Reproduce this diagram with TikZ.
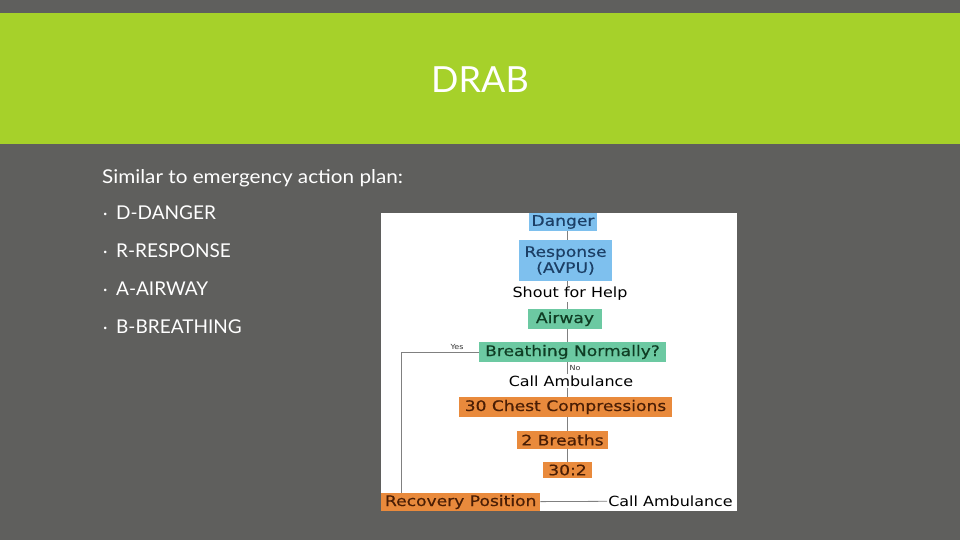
\documentclass[tikz,border=0pt]{standalone}
\usepackage{fontspec}
\setmainfont{Lato}
\newfontfamily\introfont[FakeStretch=1.09]{Lato}
\newfontfamily\chartfont[FakeStretch=1.18,FakeBold=0.4]{DejaVu Sans}
\newfontfamily\plainchartfont[FakeStretch=1.14]{DejaVu Sans}
\definecolor{bggray}{HTML}{5F5F5D}
\definecolor{bandgreen}{HTML}{A6D12A}
\definecolor{bluebox}{HTML}{7EC0EE}
\definecolor{bluetext}{HTML}{1C3F66}
\definecolor{greenbox}{HTML}{6CC9A2}
\definecolor{greentext}{HTML}{0F3D24}
\definecolor{orangebox}{HTML}{E98A3C}
\definecolor{orangetext}{HTML}{4A1E05}
\definecolor{chartline}{HTML}{808080}
\tikzset{
  cbox/.style={inner sep=0pt, minimum width=#1, font=\chartfont\fontsize{14.5}{16}\selectfont, align=center},
  bluestep/.style={cbox=#1, fill=bluebox, text=bluetext},
  greenstep/.style={cbox=#1, fill=greenbox, text=greentext},
  orangestep/.style={cbox=#1, fill=orangebox, text=orangetext},
  plaintext/.style={inner sep=1pt, font=\plainchartfont\fontsize{14}{16}\selectfont, text=black},
  smalllabel/.style={inner sep=0pt, font=\plainchartfont\fontsize{7}{8}\selectfont, text=black!80},
  conn/.style={draw=chartline, line width=0.8pt},
  bodytext/.style={inner sep=0pt, anchor=base west, text=white, font=\fontsize{19}{22}\selectfont},
}
\newcommand{\bulletdot}{\makebox[13pt][l]{\fontsize{17}{18}\selectfont\textperiodcentered}}
\begin{document}
\begin{tikzpicture}[x=1pt,y=-1pt]
\useasboundingbox (0,0) rectangle (960,540);
\fill[bggray] (0,0) rectangle (960,540);
\fill[bandgreen] (0,13) rectangle (960,144);
\node[text=white, font=\fontsize{36}{40}\selectfont, inner sep=0pt] (title) at (480,80) {DRAB};

\node[bodytext, font=\introfont\fontsize{19}{22}\selectfont] (intro) at (102,183) {Similar to emergency action plan:};
\node[bodytext] (b1) at (103,219) {\bulletdot D-DANGER};
\node[bodytext] (b2) at (103,257) {\bulletdot R-RESPONSE};
\node[bodytext] (b3) at (103,295) {\bulletdot A-AIRWAY};
\node[bodytext] (b4) at (103,333) {\bulletdot B-BREATHING};

% chart background
\fill[white] (381,213) rectangle (737,511);

\node[bluestep=68pt, minimum height=18pt] (danger) at (563,222) {Danger};
\node[bluestep=93pt, minimum height=41pt] (response) at (565.5,260.5) {Response\\(AVPU)};
\node[plaintext] (shout) at (570,294) {Shout for Help};
\node[greenstep=74pt, minimum height=20pt] (airway) at (565,319) {Airway};
\node[greenstep=187pt, minimum height=20pt] (breath) at (572.5,352) {Breathing Normally?};
\node[plaintext] (call1) at (571,381) {Call Ambulance};
\node[orangestep=213pt, minimum height=20pt] (chest) at (565.5,407) {30 Chest Compressions};
\node[orangestep=91pt, minimum height=18pt] (twob) at (562.5,440) {2 Breaths};
\node[orangestep=49pt, minimum height=16pt] (ratio) at (567.5,470) {30:2};
\node[orangestep=159pt, minimum height=18pt, anchor=west] (recovery) at (381,502) {Recovery Position};
\node[plaintext, anchor=east] (call2) at (734,501) {Call Ambulance};
\node[smalllabel] (yes) at (457,347) {Yes};
\node[smalllabel] (no) at (575,368) {No};
\coordinate (spine) at (567,0);
\coordinate (corner) at (401,352);

\draw[conn] (danger.south -| spine) -- (response.north -| spine);
\draw[conn] (response.south -| spine) -- (shout.north -| spine);
\draw[conn] (shout.south -| spine) -- (airway.north -| spine);
\draw[conn] (airway.south -| spine) -- (breath.north -| spine);
\draw[conn] (breath.south -| spine) -- (call1.north -| spine);
\draw[conn] (call1.south -| spine) -- (chest.north -| spine);
\draw[conn] (chest.south -| spine) -- (twob.north -| spine);
\draw[conn] (twob.south -| spine) -- (ratio.north -| spine);
\draw[conn] (breath.west) -- (corner) -- (corner |- recovery.north);
\draw[conn] (recovery) -- (call2);
\end{tikzpicture}
\end{document}
